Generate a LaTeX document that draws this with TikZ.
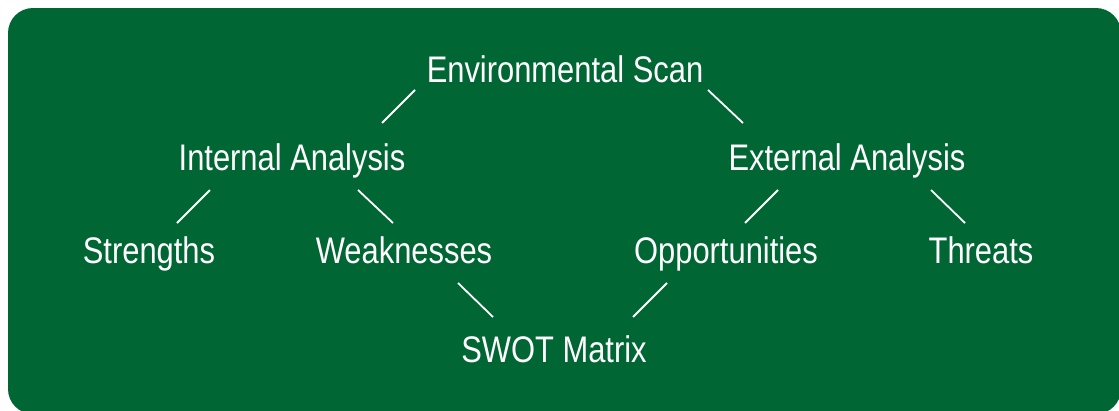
\documentclass[tikz,border=0pt]{standalone}
\usepackage{fontspec}
\setmainfont[FakeStretch=0.835]{Liberation Sans}
\definecolor{swotgreen}{HTML}{006633}
\tikzset{
  label/.style={text=white, anchor=base, font=\fontsize{37}{40}\selectfont, text height=27pt, text depth=8pt},
  link/.style={draw=white, line width=1.8pt, line cap=butt}
}

\begin{document}
\begin{tikzpicture}[y=1pt, x=1pt, yscale=-1, inner sep=0pt, outer sep=0pt]
\useasboundingbox (0,0) rectangle (1119,410);
\path[fill=swotgreen, rounded corners=25pt] (8,8) rectangle (1121,414);

\node[label] (env) at (565,82) {Environmental Scan};
\node[label] (ia) at (292,170) {Internal Analysis};
\node[label] (ea) at (847,170) {External Analysis};
\node[label] (str) at (149,263) {Strengths};
\node[label] (weak) at (404,263) {Weaknesses};
\node[label] (opp) at (726,263) {Opportunities};
\node[label] (thr) at (981,263) {Threats};
\node[label] (swot) at (554,362) {SWOT Matrix};

\path[link] ([xshift=-150pt]env.south) -- ([xshift=90pt, yshift=-20pt]ia.north);
\path[link] ([xshift=143pt]env.south) -- ([xshift=-104pt, yshift=-20pt]ea.north);
\path[link] ([xshift=-82pt, yshift=12pt]ia.south) -- ([xshift=28pt, yshift=-13pt]str.north);
\path[link] ([xshift=66pt, yshift=12pt]ia.south) -- ([xshift=-11pt, yshift=-13pt]weak.north);
\path[link] ([xshift=-69pt, yshift=12pt]ea.south) -- ([xshift=19pt, yshift=-13pt]opp.north);
\path[link] ([xshift=84pt, yshift=12pt]ea.south) -- ([xshift=-16pt, yshift=-13pt]thr.north);
\path[link] ([xshift=54pt, yshift=12pt]weak.south) -- ([xshift=-61pt, yshift=-18pt]swot.north);
\path[link] ([xshift=-59pt, yshift=12pt]opp.south) -- ([xshift=79pt, yshift=-18pt]swot.north);

\end{tikzpicture}
\end{document}
